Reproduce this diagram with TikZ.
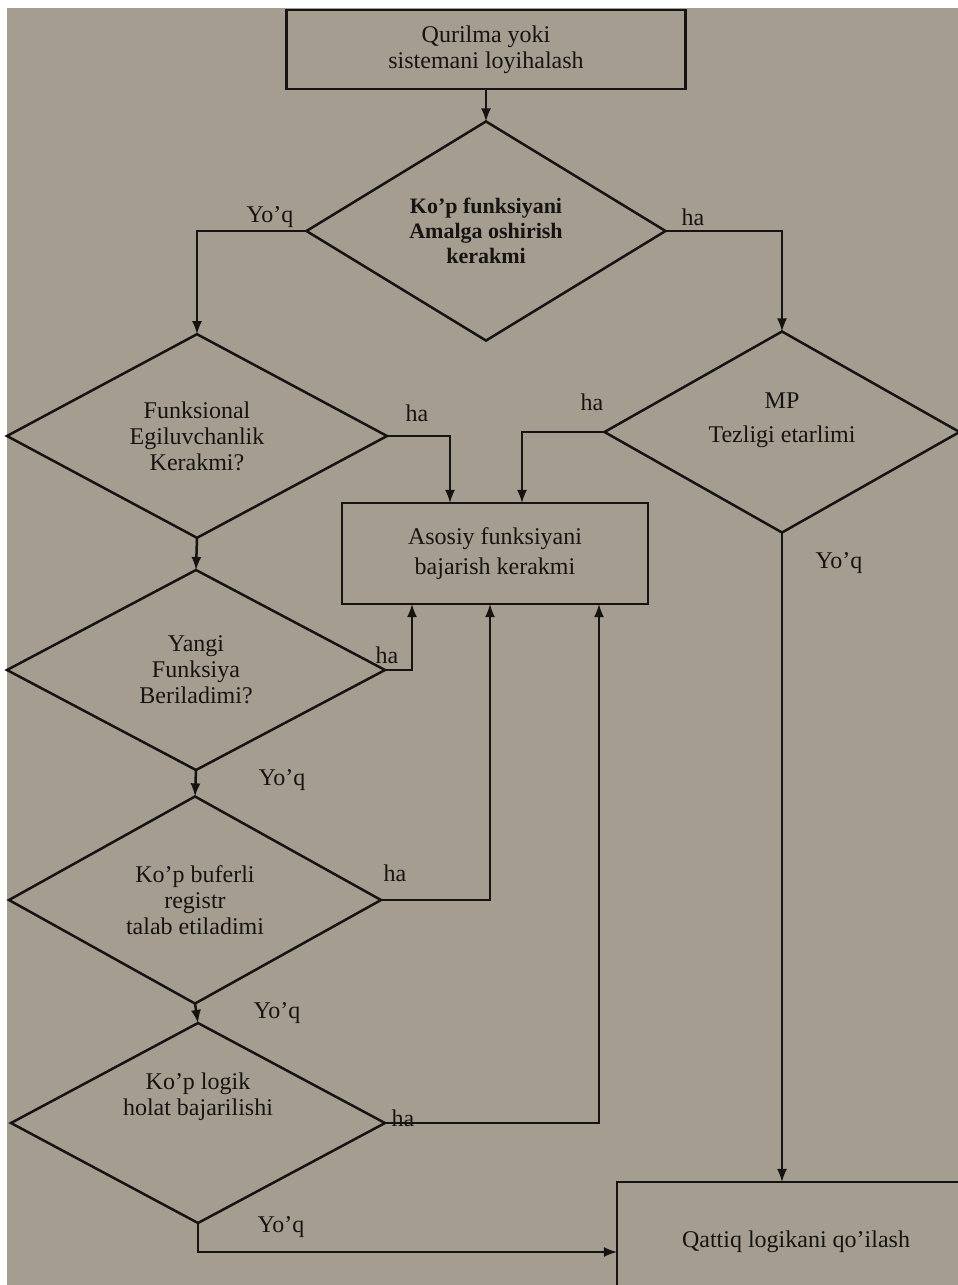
\documentclass[tikz,border=0pt]{standalone}
\usepackage{fontspec}
\setmainfont{Liberation Serif}
\usepackage{tikz}
\usetikzlibrary{shapes,arrows}
\definecolor{paper}{RGB}{166,157,145}
\definecolor{ink}{RGB}{22,20,18}
\tikzstyle{every node}=[font=\fontsize{12}{13}\selectfont,text=ink]
\tikzstyle{dec}=[diamond,draw=ink,line width=1.25pt,inner sep=0pt,outer sep=0pt,align=center]
\tikzstyle{proc}=[rectangle,draw=ink,line width=1.25pt,inner sep=0pt,outer sep=0pt,align=center]
\tikzstyle{link}=[draw=ink,line width=1.25pt,-latex]

\begin{document}
\begin{tikzpicture}[x=0.5pt,y=-0.5pt]
\useasboundingbox (0,0) rectangle (958,1285);
\fill[white] (0,0) rectangle (958,1285);
\fill[paper] (7,8) rectangle (958,1285);
% blocks
\node[proc, minimum width=199.5pt, minimum height=39.5pt] (top) at (486,49.5) {Qurilma yoki\\sistemani loyihalash};
\node[dec, minimum width=179.5pt, minimum height=90pt, font=\fontsize{11}{12.5}\selectfont\bfseries] (mf) at (486,231) {Ko'p funksiyani\\Amalga oshirish\\kerakmi};
\node[dec, minimum width=190pt, minimum height=101pt] (fe) at (197,436) {Funksional\\Egiluvchanlik\\Kerakmi?};
\node[dec, minimum width=189pt, minimum height=100pt] (yf) at (196,670) {Yangi\\Funksiya\\Beriladimi?};
\node[dec, minimum width=186pt, minimum height=99pt] (kb) at (195,900) {Ko'p buferli\\registr\\talab etiladimi};
\node[dec, minimum width=187pt, minimum height=100pt] (kl) at (198,1123) {};
\node (kltxt) at (198,1097) [align=center] {Ko'p logik\\holat bajarilishi};
\node[dec, minimum width=177.5pt, minimum height=100.5pt] (mp) at (782,432) {};
\node (mptxt) at (782,420) [align=center] {MP\\[4pt]Tezligi etarlimi};
\node[proc, minimum width=153pt, minimum height=50.5pt] (af) at (495,553.5) {Asosiy funksiyani\\[2pt]bajarish kerakmi};
\node[proc, minimum width=179pt, minimum height=60pt] (ql) at (796,1242) {Qattiq logikani qo'ilash};
% connectors
\draw[link] (top.south) -- (mf.north);
\draw[link] (mf.west) -| (fe.north);
\draw[link] (mf.east) -| (mp.north);
\draw[link] (fe.east) -| ([xshift=-22.5pt]af.north);
\draw[link] (mp.west) -| ([xshift=13.5pt]af.north);
\draw[link] (fe.south) -- (yf.north);
\draw[link] (yf.east) -| ([xshift=-41.5pt]af.south);
\draw[link] (yf.south) -- (kb.north);
\draw[link] (kb.east) -| ([xshift=-2.5pt]af.south);
\draw[link] (kb.south) -- (kl.north);
\draw[link] (kl.east) -| ([xshift=52pt]af.south);
\draw[link] (kl.south) |- ([yshift=-5pt]ql.west);
\draw[link] (mp.south) -- (mp.south |- ql.north);
% answers
\node (n1) at (270,217) {Yo'q};
\node (y1) at (693,217) {ha};
\node (y2) at (417,413) {ha};
\node (y3) at (592,402) {ha};
\node (n2) at (839,563) {Yo'q};
\node (y4) at (387,655) {ha};
\node (n3) at (282,780) {Yo'q};
\node (y5) at (395,873) {ha};
\node (n4) at (277,1013) {Yo'q};
\node (y6) at (403,1118) {ha};
\node (n5) at (281,1227) {Yo'q};
\end{tikzpicture}
\end{document}
